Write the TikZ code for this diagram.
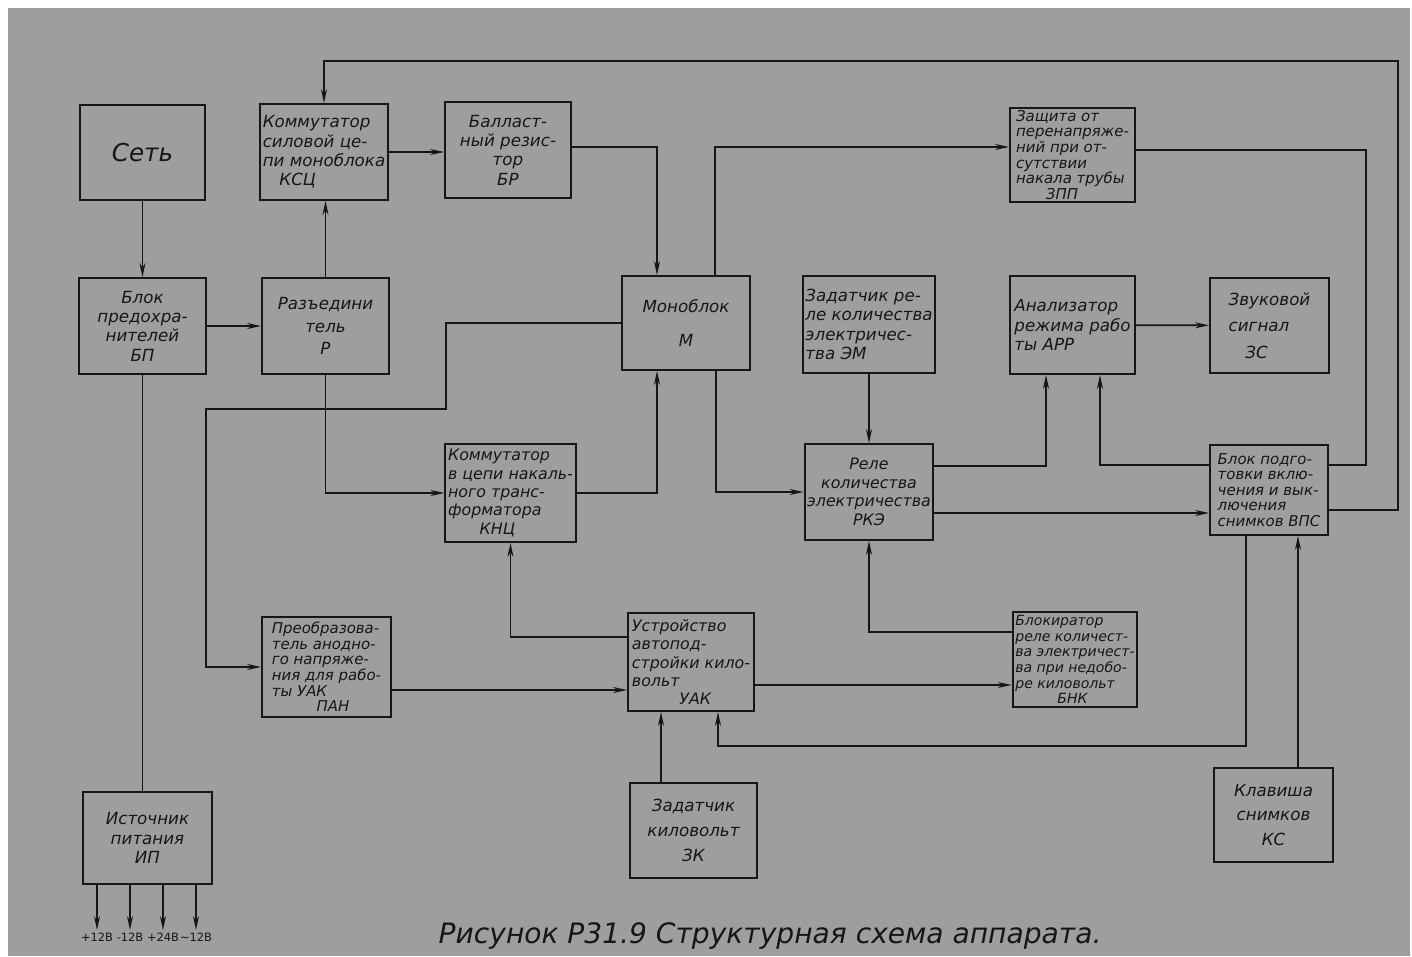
\documentclass[tikz,border=0pt]{standalone}
\usepackage{fontspec}
\setmainfont{DejaVu Sans}
\usepackage{xcolor}
\usetikzlibrary{positioning,arrows.meta}
\definecolor{paper}{RGB}{158,158,156}
\definecolor{ink}{RGB}{22,22,22}

\begin{document}
\begin{tikzpicture}[
  x=0.02cm, y=-0.02cm,
  color=ink,
  line width=1pt,
  font=\itshape\fontsize{9.5}{11}\selectfont,
  >={Stealth[length=2.8mm,width=1.2mm]},
  box/.style={draw, line width=1.1pt, minimum width=2.54cm, minimum height=1.92cm, inner sep=1.5pt, align=center},
  lbox/.style={box, align=left},
  dense/.style={font=\itshape\fontsize{8.5}{8.9}\selectfont},
  mid/.style={font=\itshape\fontsize{9}{10.5}\selectfont},
  outlbl/.style={font=\fontsize{6.5}{7}\selectfont, inner sep=1pt}
]
  % Sheet
  \useasboundingbox (0,0) rectangle (1412,956);
  \fill[white] (0,0) rectangle (1412,956);
  \fill[paper] (8,8) rectangle (1410,956);

  % Top row
  \node[box, font=\itshape\fontsize{14}{15}\selectfont, minimum width=2.5cm, minimum height=1.9cm] (set) at (142.5,152.5) {Сеть};
  \node[lbox, minimum width=2.56cm] (ksc) at (324,152) {Коммутатор\\силовой це-\\пи моноблока\\\quad КСЦ};
  \node[box, minimum width=2.52cm] (br) at (508,150) {Балласт-\\ный резис-\\тор\\БР};
  \node[lbox, dense, minimum width=2.5cm, minimum height=1.88cm] (zpp) at (1072.5,155) {Защита от\\перенапряже-\\ний при от-\\сутствии\\накала трубы\\\qquad ЗПП};

  % Second row
  \node[box] (bp) at (142.5,326) {Блок\\предохра-\\нителей\\БП};
  \node[box] (rz) at (325.5,326) {Разъедини\\[2pt]тель\\[2pt]Р};
  \node[box, minimum width=2.56cm, minimum height=1.88cm] (mono) at (686,323) {Моноблок\\[8pt]М};
  \node[lbox, minimum width=2.6cm, minimum height=1.94cm] (em) at (869,324.5) {Задатчик ре-\\ле количества\\электричес-\\тва ЭМ};
  \node[lbox, minimum width=2.5cm, minimum height=1.96cm] (arr) at (1072.5,325) {Анализатор\\режима рабо\\ты АРР};
  \node[lbox, minimum width=2.38cm, minimum height=1.9cm] (zs) at (1269.5,325.5) {Звуковой\\[4pt]сигнал\\[4pt]\quad ЗС};

  % Third row
  \node[lbox, mid, minimum height=1.96cm] (knc) at (510.5,493) {Коммутатор\\в цепи накаль-\\ного транс-\\форматора\\\qquad КНЦ};
  \node[box, mid, minimum width=2.56cm] (rke) at (869,492) {Реле\\количества\\электричества\\РКЭ};
  \node[lbox, dense, minimum width=2.36cm, minimum height=1.8cm] (vps) at (1269,490) {Блок подго-\\товки вклю-\\чения и вык-\\лючения\\снимков ВПС};

  % Fourth row
  \node[lbox, dense, minimum width=2.58cm, minimum height=2cm] (pan) at (326.5,667) {Преобразова-\\тель анодно-\\го напряже-\\ния для рабо-\\ты УАК\\\qquad\quad ПАН};
  \node[lbox, mid, minimum width=2.52cm, minimum height=1.96cm] (uak) at (691,662) {Устройство\\автопод-\\стройки кило-\\вольт\\\qquad\quad УАК};
  \node[lbox, dense, font=\itshape\fontsize{8}{8.9}\selectfont, minimum width=2.48cm, minimum height=1.9cm] (bnk) at (1075,659.5) {Блокиратор\\реле количест-\\ва электричест-\\ва при недобо-\\ре киловольт\\\qquad\quad БНК};

  % Bottom row
  \node[box, minimum width=2.58cm, minimum height=1.84cm] (ip) at (147.5,838) {Источник\\питания\\ИП};
  \node[box, minimum width=2.54cm, minimum height=1.9cm] (zk) at (693.5,830.5) {Задатчик\\[3pt]киловольт\\[3pt]ЗК};
  \node[box, minimum width=2.38cm, minimum height=1.88cm] (ks) at (1273.5,815) {Клавиша\\[3pt]снимков\\[3pt]КС};

  % Supply outputs
  \foreach \dx/\lbl [count=\i] in {-1.01/{+12В}, -0.35/{-12В}, 0.31/{+24В}, 0.97/{\textasciitilde12В}} {
    \node[outlbl, below=0.9cm of ip.south, xshift=\dx cm] (out\i) {\lbl};
    \draw[->] ([xshift=\dx cm]ip.south) -- ([xshift=\dx cm]ip.south |- out\i.north);
  }

  % Caption
  \node[font=\itshape\fontsize{16}{17}\selectfont] (cap) at (770,936) {Рисунок Р31.9 Структурная схема аппарата.};

  % Connections
  \draw[->] (set) -- (bp);
  \draw[->] (bp) -- (rz);
  \draw[->] (rz.north) -- (rz.north |- ksc.south);
  \draw[->] (ksc.east) -- (ksc.east -| br.west);
  \draw[->] ([yshift=0.06cm]br.east) -| ([xshift=-0.58cm]mono.north);
  \draw[->] ([yshift=-0.4cm]vps.east) -- ++(1.38cm,0) |- ([yshift=0.84cm]ksc.north) -- (ksc.north);
  \draw[->] ([xshift=0.58cm]mono.north) |- ([yshift=0.16cm]zpp.west);
  \draw ([yshift=0.1cm]zpp.east) -| ([xshift=0.74cm,yshift=0.5cm]vps.east) -- ([yshift=0.5cm]vps.east);
  \draw[->] (rz.south) |- (knc.west);
  \draw[->] (knc.east) -| ([xshift=-0.58cm]mono.south);
  \draw[->] (mono.west) -- ++(-3.5cm,0) -- ++(0,-1.72cm) -| ([xshift=-1.1cm]pan.west) -- (pan.west);
  \draw[->] ([yshift=-0.46cm]pan.east) -- ([yshift=-0.46cm]pan.east -| uak.west);
  \draw[->] ([yshift=0.5cm]uak.west) -| (knc.south);
  \draw[->] ([yshift=-0.46cm]uak.east) -- ([yshift=-0.46cm]uak.east -| bnk.west);
  \draw[->] ([yshift=0.55cm]bnk.west) -| (rke.south);
  \draw[->] (em) -- (rke);
  \draw[->] ([xshift=0.6cm]mono.south) |- (rke.west);
  \draw[->] ([yshift=0.52cm]rke.east) -| ([xshift=-0.53cm]arr.south);
  \draw[->] ([yshift=-0.42cm]rke.east) -- ([yshift=-0.42cm]rke.east -| vps.west);
  \draw[->] ([yshift=0.5cm]vps.west) -| ([xshift=0.55cm]arr.south);
  \draw[->] (arr) -- (zs);
  \draw[->] ([xshift=-0.46cm]vps.south) -- ++(0,-4.2cm) -| ([xshift=0.54cm]uak.south);
  \draw[->] ([xshift=0.49cm]ks.north) -- ([xshift=0.49cm]ks.north |- vps.south);
  \draw[->] ([xshift=-0.65cm]zk.north) -- ([xshift=-0.65cm]zk.north |- uak.south);
  \draw (bp.south) -- (bp.south |- ip.north);
\end{tikzpicture}
\end{document}
